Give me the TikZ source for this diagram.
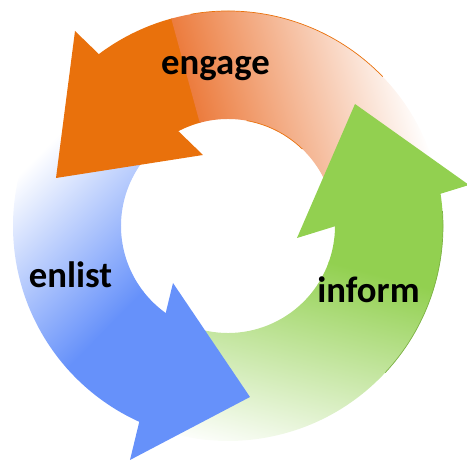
\documentclass[tikz,border=0pt]{standalone}
\usepackage{fontspec}
\setmainfont{Carlito}
\definecolor{orangeA}{RGB}{233,113,12}
\definecolor{orangeB}{RGB}{236,124,62}
\definecolor{greenA}{RGB}{146,208,80}
\definecolor{blueA}{RGB}{102,145,250}

\begin{document}
\begin{tikzpicture}[every node/.style={font=\fontsize{20.9}{25}\selectfont\bfseries}]
    \useasboundingbox (-4.56,-4.70) rectangle (4.78,4.52);
    % Оранжевая дуга
    \begin{scope}
        \clip (15:2.14) arc[start angle=15, end angle=128, radius=2.14] -- (128:4.3) arc[start angle=128, end angle=15, radius=4.3] -- cycle;
        \begin{scope}[transform canvas={rotate=15.3}]
            \fill[orangeA] (-5,-5) rectangle (0.02,5);
            \shade[left color=orangeB, middle color=orangeB!58!white, right color=white] (0,-5) rectangle (4.3,5);
        \end{scope}
    \end{scope}
    % Зелёная дуга
    \begin{scope}
        \clip (250:2.14) arc[start angle=250, end angle=369, radius=2.14] -- (369:4.3) arc[start angle=369, end angle=250, radius=4.3] -- cycle;
        \begin{scope}[transform canvas={rotate=255.3}]
            \fill[greenA] (-5,-5) rectangle (0.2,5);
            \shade[left color=greenA, right color=white] (0.18,-5) rectangle (4.4,5);
        \end{scope}
    \end{scope}
    % Синяя дуга
    \begin{scope}
        \clip (135:2.14) arc[start angle=135, end angle=247, radius=2.14] -- (247:4.3) arc[start angle=247, end angle=135, radius=4.3] -- cycle;
        \begin{scope}[transform canvas={rotate=135.3}]
            \fill[blueA] (-5,-5) rectangle (0.3,5);
            \shade[left color=blueA, right color=white] (0.28,-5) rectangle (3.7,5);
        \end{scope}
    \end{scope}
    % Контуры
    \draw[orangeA, line width=0.4pt] (44:4.3) arc[start angle=44, end angle=100, radius=4.3];
    \draw[orangeA, line width=0.4pt] (46:2.14) arc[start angle=46, end angle=80, radius=2.14];
    \draw[greenA!85!black, line width=0.4pt] (-43:4.3) arc[start angle=-43, end angle=4, radius=4.3];
    % Наконечники
    \fill[orangeA] (-3.06,3.90) -- (-3.44,0.96) -- (-0.50,1.42) -- cycle;
    \fill[greenA] (2.54,2.44) -- (4.82,0.82) -- (1.38,-0.24) -- cycle;
    \fill[blueA] (-1.10,-1.14) -- (0.44,-3.42) -- (-1.96,-4.68) -- cycle;
    % Подписи
    \node[anchor=base] (engage) at (-0.25,3.02) {engage};
    \node[anchor=base] (enlist) at (-3.15,-1.24) {enlist};
    \node[anchor=base] (inform) at (2.81,-1.54) {inform};
\end{tikzpicture}
\end{document}
